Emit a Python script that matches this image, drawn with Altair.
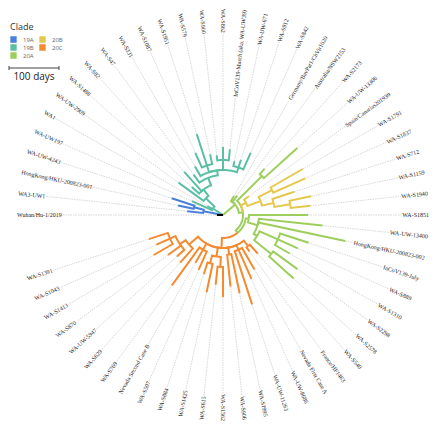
import math
import altair as alt
import pandas as pd

# ---------------- data ----------------
tip_names = [
    "Wuhan/Hu-1/2019", "WA3-UW1", "HongKong/HKU-200823-001", "WA-UW-4243",
    "WA-UW197", "WA1", "WA-UW-2909", "WA-S1488", "WA-S82", "WA-S47", "WA-S331",
    "WA-S1087", "WA-S1951", "WA-S579", "WA-S900", "WA-S862",
    "InCoV139-March (aka. WA-UW39)", "WA-UW-671", "WA-S912", "WA-S842",
    "Germany/BavPat1/ChVir1020", "Australia/NSW2153", "WA-S2173", "WA-UW-13306",
    "Spain/Canarias201939", "WA-S1791", "WA-S1837", "WA-S712", "WA-S1159",
    "WA-S1940", "WA-S1851", "WA-UW-13400", "HongKong/HKU-200823-002",
    "InCoV139-July", "WA-S889", "WA-S1310", "WA-S2298", "WA-S2578", "WA-S540",
    "France/HF1463", "Nevada First Case A", "WA-UW-8686", "WA-UW-11263",
    "WA-S1995", "WA-S906", "WA-S1562", "WA-S615", "WA-S1425", "WA-S884",
    "WA-S597", "Nevada Second Case B", "WA-S769", "WA-S629", "WA-UW-5947",
    "WA-S870", "WA-S1413", "WA-S1043", "WA-S1391",
]
tip_clades = (
    ["root"] + ["19A"] * 3 + ["19B"] * 16 + ["20A"] * 4 + ["20B"] * 6
    + ["20A"] * 8 + ["20C"] * 20
)
# distance from root, in days
tip_days = [
    12, 72, 92, 108,
    68, 36, 110, 84, 116, 100, 112, 136, 170, 124, 120, 136, 132, 110, 116, 136,
    44, 48, 124, 200,
    64, 184, 180, 150, 180, 176,
    170, 200, 250, 180, 164, 154, 184, 190,
    104, 90, 126, 140, 188, 160, 144, 164, 140, 158, 124, 120, 110, 174, 128,
    124, 136, 160, 146, 156,
]
tip_parents = [
    "root", "A1", "A2", "A2",
    "B1", "B1", "B2", "B2b", "B2b", "B3", "B4", "B5", "B5", "B5", "B6", "B6",
    "B6", "B7", "B7", "B7",
    "G0", "G0", "G2", "G2",
    "Y0", "Y2", "Y2", "Y3", "Y4", "Y4",
    "G4", "G5", "G5", "G7", "G7", "G7", "G8", "G8",
    "O1", "O1", "O2", "O2", "O2", "O3", "O3", "O4a", "O4a", "O4b", "O4b",
    "O5", "O5", "O5", "O6", "O7", "O7", "O8", "O8", "O8",
]

node_ids = ["root", "A1", "A2", "B1", "B2", "B2b", "B3", "B4", "B5", "B6", "B7",
            "G0", "G1", "G2", "Y0", "Y1", "Y2", "Y3", "Y4", "G3", "G4", "G5",
            "G6", "G7", "G8", "O0", "O1", "O2", "O3", "O4", "O4a", "O4b", "O5",
            "O6", "O7", "O8"]
node_parents = [None, "root", "A1", "root", "B1", "B2", "B2b", "B3", "B4", "B4",
                "B4", "root", "G0", "G1", "G1", "Y0", "Y1", "Y1", "Y3", "G1",
                "G3", "G4", "G5", "G6", "G6", "G3", "O0", "O0", "O0", "O0",
                "O4", "O4", "O0", "O0", "O6", "O7"]
node_days = [0, 40, 60, 24, 48, 64, 80, 90, 104, 110, 100,
             32, 40, 110, 52, 80, 110, 104, 136, 46, 52, 72,
             80, 120, 124, 66, 80, 76, 80, 84, 104, 100, 80,
             90, 104, 116]
node_clades = ["root", "19A", "19A", "19B", "19B", "19B", "19B", "19B", "19B",
               "19B", "19B", "20A", "20A", "20A", "20B", "20B", "20B", "20B",
               "20B", "20A", "20A", "20A", "20A", "20A", "20A", "20C", "20C",
               "20C", "20C", "20C", "20C", "20C", "20C", "20C", "20C", "20C"]

clade_order = ["19A", "19B", "20A", "20B", "20C"]
clade_colors = ["#4A7FDD", "#5CBFA5", "#9DCE5B", "#E5C84B", "#F58A2F"]

# ---------------- layout (computed) ----------------
n_tips = len(tip_names)
step = 360.0 / (n_tips + 2)
LABEL_R = 412  # days

parent = {}
days = {}
clade = {}
angle = {}
children = {}
for nid, p, d, c in zip(node_ids, node_parents, node_days, node_clades):
    parent[nid] = p
    days[nid] = d
    clade[nid] = c
for i, (nm, p, d, c) in enumerate(zip(tip_names, tip_parents, tip_days, tip_clades)):
    parent[nm] = p
    days[nm] = d
    clade[nm] = c
    angle[nm] = 180.0 - step * i
for k, p in parent.items():
    if p is not None:
        children.setdefault(p, []).append(k)


def get_angle(n):
    if n not in angle:
        angle[n] = sum(get_angle(c) for c in children[n]) / len(children[n])
    return angle[n]


get_angle("root")


def pt(r, a):
    return r * math.cos(math.radians(a)), r * math.sin(math.radians(a))


rows = []
for k, p in parent.items():
    if p is None:
        continue
    a0, a1 = angle[p], angle[k]
    rp, rk = days[p], days[k]
    nseg = max(1, int(abs(a1 - a0)))
    seq = 0
    for j in range(nseg + 1):
        a = a0 + (a1 - a0) * j / nseg
        x, y = pt(rp, a)
        rows.append({"edge": k, "seq": seq, "x": x, "y": y, "clade": clade[k]})
        seq += 1
    x, y = pt(rk, a1)
    rows.append({"edge": k, "seq": seq, "x": x, "y": y, "clade": clade[k]})
edges = pd.DataFrame(rows)

lead_rows = []
label_rows = []
for nm in tip_names:
    a = angle[nm]
    x0, y0 = pt(days[nm], a)
    x1, y1 = pt(LABEL_R, a)
    lead_rows.append({"x": x0, "y": y0, "x2": x1, "y2": y1})
    right = -90 <= a < 90
    rot = (-a) % 360 if right else (-(a + 180)) % 360
    label_rows.append({"label": nm, "x": x1, "y": y1, "rot": rot,
                       "side": "right" if right else "left"})
leads = pd.DataFrame(lead_rows)
labels = pd.DataFrame(label_rows)

W, H = 424, 415
cx, cy = 215, 207
PX_PER_DAY = 0.5
xdom = [-cx / PX_PER_DAY, (W - cx) / PX_PER_DAY]
ydom = [-(H - cy) / PX_PER_DAY, cy / PX_PER_DAY]
xs = alt.Scale(domain=xdom, nice=False, zero=False)
ys = alt.Scale(domain=ydom, nice=False, zero=False)

lead_layer = alt.Chart(leads).mark_rule(
    color="#c4c4c4", strokeWidth=0.7, strokeDash=[1.5, 1]
).encode(
    x=alt.X("x:Q", scale=xs, axis=None), y=alt.Y("y:Q", scale=ys, axis=None),
    x2="x2:Q", y2="y2:Q",
)

edge_layer = alt.Chart(edges).mark_line(strokeWidth=2, strokeCap="butt").encode(
    x=alt.X("x:Q", scale=xs, axis=None),
    y=alt.Y("y:Q", scale=ys, axis=None),
    detail="edge:N",
    order="seq:Q",
    color=alt.Color(
        "clade:N",
        scale=alt.Scale(domain=clade_order + ["root"], range=clade_colors + ["#000000"]),
        legend=alt.Legend(
            title="Clade", values=clade_order, orient="none", legendX=2, legendY=15,
            columns=2, symbolType="square", symbolSize=10, symbolStrokeWidth=3.2,
            labelFontSize=6, labelColor="#666", labelFont="Open Sans",
            titleFontSize=9, titleFont="Open Sans", titleFontWeight="normal",
            titleColor="#333", rowPadding=1, columnPadding=5, labelOffset=6,
            titlePadding=4, clipHeight=7,
        ),
    ),
)


def text_layer(side, align, halo):
    props = dict(align=align, baseline="middle", font="Liberation Serif", fontSize=6)
    if halo:
        props.update(color="white", stroke="white", strokeWidth=2.5)
    else:
        props.update(color="#222222")
    return alt.Chart(labels).transform_filter(
        alt.datum.side == side
    ).mark_text(**props).encode(
        x=alt.X("x:Q", scale=xs, axis=None),
        y=alt.Y("y:Q", scale=ys, axis=None),
        angle=alt.Angle("rot:Q", scale=None),
        text="label:N",
    )


bar_len = [100]
bar_df = pd.DataFrame({"x": [xdom[0] + 2], "x2": [xdom[0] + 2 + bar_len[0]]})
bar = alt.Chart(bar_df).mark_rule(color="#444", strokeWidth=1).encode(
    x=alt.X("x:Q", scale=xs), x2="x2:Q", y=alt.value(60)
)
bar_ticks = alt.Chart(pd.DataFrame({"x": [xdom[0] + 2, xdom[0] + 2 + bar_len[0]]})).mark_rule(
    color="#444", strokeWidth=1
).encode(x=alt.X("x:Q", scale=xs), y=alt.value(58), y2=alt.value(62))
bar_text = alt.Chart(pd.DataFrame({"x": [xdom[0] + 2 + bar_len[0] / 2],
                                   "t": [f"{bar_len[0]} days"]})).mark_text(
    font="Open Sans", fontSize=10, color="#222", baseline="middle"
).encode(x=alt.X("x:Q", scale=xs), y=alt.value(69), text="t:N")

chart = alt.layer(
    lead_layer, edge_layer,
    text_layer("right", "right", True), text_layer("left", "left", True),
    text_layer("right", "right", False), text_layer("left", "left", False),
    bar, bar_ticks, bar_text,
).properties(
    width=W, height=H, padding=0, autosize=alt.AutoSizeParams(type="none")
).configure_view(stroke=None)

chart.save("out.html", embed_options={"renderer": "svg", "actions": False})
